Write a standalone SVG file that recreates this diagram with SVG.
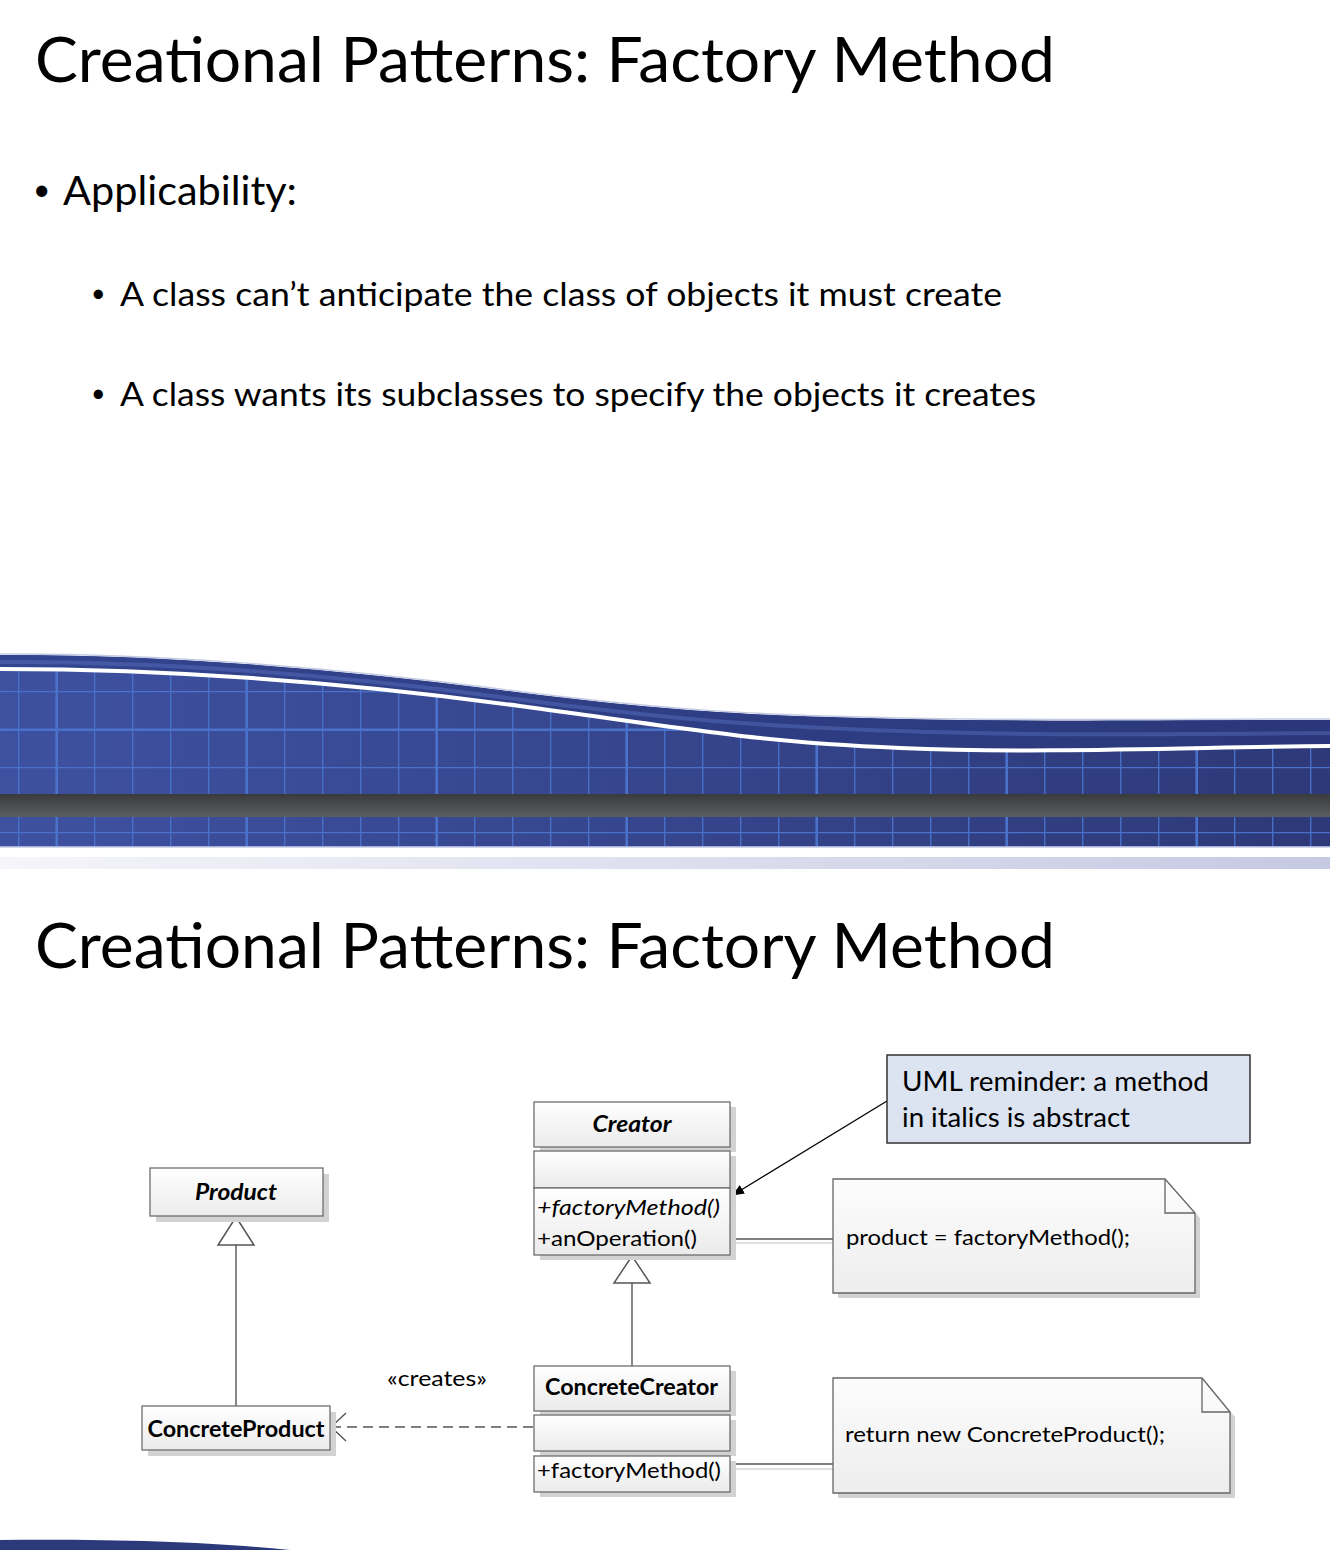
<svg xmlns="http://www.w3.org/2000/svg" width="1330" height="1550" viewBox="0 0 1330 1550">
<defs>
<style>
.t{font-family:Lato,"Open Sans","Liberation Sans",sans-serif;fill:#000}
.title{font-size:62px;font-weight:400}
.b1{font-size:40px}
.b2{font-size:32px}
.d{font-size:22px}
.bd{font-weight:bold}
.it{font-style:italic}
.box{fill:url(#boxGrad);stroke:#6e6e6e;stroke-width:1.3}
.sh{fill:#d2d2d2}
.note{fill:url(#noteGrad);stroke:#666;stroke-width:1.3}
.line{stroke:#555;stroke-width:1.4;fill:none}
.lsh{stroke:#d4d4d4;stroke-width:1.4;fill:none}
.grid{stroke:#4a72cb;fill:none}
</style>
<linearGradient id="boxGrad" x1="0" y1="0" x2="0" y2="1">
<stop offset="0" stop-color="#ffffff"/><stop offset="1" stop-color="#ebebeb"/>
</linearGradient>
<linearGradient id="noteGrad" x1="0" y1="0" x2="0" y2="1">
<stop offset="0" stop-color="#fdfdfd"/><stop offset="1" stop-color="#ededed"/>
</linearGradient>
<linearGradient id="blueGrad" x1="0" y1="0" x2="1" y2="0">
<stop offset="0" stop-color="#3e51a0"/><stop offset="1" stop-color="#2d3978"/>
</linearGradient>
<linearGradient id="ribGrad" x1="0" y1="0" x2="1" y2="0">
<stop offset="0" stop-color="#33458f"/><stop offset="1" stop-color="#2a377a"/>
</linearGradient>
<linearGradient id="barGrad" x1="0" y1="0" x2="0" y2="1">
<stop offset="0" stop-color="#393b3d"/><stop offset="1" stop-color="#5a5e61"/>
</linearGradient>
<linearGradient id="lavGrad" x1="0" y1="0" x2="1" y2="0">
<stop offset="0" stop-color="#f5f5fa"/><stop offset="1" stop-color="#c6c9e3"/>
</linearGradient>
<clipPath id="gridClip">
<path d="M0,669 C150,669 330,680 520,706 C710,732 760,742 900,748 C1040,754 1200,747 1330,746 L1330,847 L0,847 Z"/>
</clipPath>
<marker id="arrFill" markerWidth="12" markerHeight="10" refX="11" refY="5" orient="auto" markerUnits="userSpaceOnUse">
<path d="M0,0 L12,5 L0,10 Z" fill="#000"/>
</marker>
</defs>

<rect x="0" y="0" width="1330" height="1550" fill="#ffffff"/>

<!-- Slide 1 text -->
<text class="t title" x="35" y="82" textLength="1020" lengthAdjust="spacingAndGlyphs">Creational Patterns: Factory Method</text>
<text class="t" font-size="30" x="33" y="200">•</text>
<text class="t b1" x="63" y="205" textLength="234" lengthAdjust="spacingAndGlyphs">Applicability:</text>
<text class="t" font-size="25" x="91" y="302">•</text>
<text class="t b2" x="120" y="306" textLength="882" lengthAdjust="spacingAndGlyphs">A class can’t anticipate the class of objects it must create</text>
<text class="t" font-size="25" x="91" y="402">•</text>
<text class="t b2" x="120" y="406" textLength="916" lengthAdjust="spacingAndGlyphs">A class wants its subclasses to specify the objects it creates</text>

<!-- Wave band -->
<path d="M0,655 C150,654 330,668 500,690 C670,712 760,716 900,719 C1040,722 1200,720 1330,720 L1330,847 L0,847 Z" fill="url(#blueGrad)"/>
<g clip-path="url(#gridClip)">
<g class="grid" stroke-width="1.3">
<path d="M18.7,640V850M94.7,640V850M132.7,640V850M170.7,640V850M208.7,640V850M284.7,640V850M322.7,640V850M360.7,640V850M398.7,640V850M474.7,640V850M512.7,640V850M550.7,640V850M588.7,640V850M664.7,640V850M702.7,640V850M740.7,640V850M778.7,640V850M854.7,640V850M892.7,640V850M930.7,640V850M968.7,640V850M1044.7,640V850M1082.7,640V850M1120.7,640V850M1158.7,640V850M1234.7,640V850M1272.7,640V850M1310.7,640V850"/>
<path d="M0,691.7H1330M0,767.7H1330M0,832.7H1330"/>
</g>
<g class="grid" stroke-width="2.6">
<path d="M56.7,640V850M246.7,640V850M436.7,640V850M626.7,640V850M816.7,640V850M1006.7,640V850M1196.7,640V850"/>
<path d="M0,729.7H1330"/>
</g>
</g>
<path d="M0,655 C150,654 330,668 500,690 C670,712 760,716 900,719 C1040,722 1200,720 1330,720 L1330,746 C1200,747 1040,754 900,748 C760,742 710,732 520,706 C330,680 150,669 0,669 Z" fill="url(#ribGrad)"/>
<path d="M0,662 C150,661 330,674 500,697 C670,720 760,726 900,731 C1040,736 1200,734 1330,733" fill="none" stroke="#5a72c0" stroke-width="4" opacity="0.45"/>
<path d="M0,654 C150,653 330,667 500,689 C670,711 760,715 900,718 C1040,721 1200,719 1330,719" fill="none" stroke="#c4cae4" stroke-width="1.5"/>
<path d="M0,669 C150,669 330,680 520,706 C710,732 760,742 900,748 C1040,754 1200,747 1330,746" fill="none" stroke="#ffffff" stroke-width="4"/>
<rect x="0" y="794" width="1330" height="23" fill="url(#barGrad)"/>
<rect x="0" y="846" width="1330" height="1.5" fill="#a7b0da"/>
<rect x="0" y="857" width="1330" height="12" fill="url(#lavGrad)"/>

<!-- Slide 2 title -->
<text class="t title" x="35" y="968" textLength="1020" lengthAdjust="spacingAndGlyphs">Creational Patterns: Factory Method</text>

<!-- Connectors -->
<g id="connectors">
<line class="line" x1="236" y1="1245" x2="236" y2="1406"/>
<polygon points="236,1217 218,1245 254,1245" fill="#fff" stroke="#555" stroke-width="1.5"/>
<line class="line" x1="632" y1="1283" x2="632" y2="1366"/>
<polygon points="632,1256 614,1283 650,1283" fill="#fff" stroke="#555" stroke-width="1.5"/>
<line class="line" x1="533" y1="1427" x2="333" y2="1427" stroke-dasharray="10,6"/>
<polyline points="346,1413 331,1427 346,1441" fill="none" stroke="#555" stroke-width="1.4"/>
<text class="t d" x="387" y="1386" textLength="100" lengthAdjust="spacingAndGlyphs">«creates»</text>
<line x1="887" y1="1101" x2="733" y2="1195" stroke="#000" stroke-width="1.3" marker-end="url(#arrFill)"/>
<line class="lsh" x1="735" y1="1243" x2="838" y2="1243"/>
<line class="line" x1="730" y1="1239" x2="833" y2="1239"/>
<line class="lsh" x1="735" y1="1469" x2="838" y2="1469"/>
<line class="line" x1="730" y1="1464" x2="833" y2="1464"/>
</g>

<!-- Product -->
<g id="product">
<rect class="sh" x="156" y="1174" width="173" height="48"/>
<rect class="box" x="150" y="1168" width="173" height="48"/>
<text class="t d bd it" x="236" y="1200" text-anchor="middle" textLength="82" lengthAdjust="spacingAndGlyphs">Product</text>
</g>

<!-- ConcreteProduct -->
<g id="concreteProduct">
<rect class="sh" x="148" y="1412" width="188" height="44"/>
<rect class="box" x="142" y="1406" width="188" height="44"/>
<text class="t d bd" x="236" y="1437" text-anchor="middle" textLength="177" lengthAdjust="spacingAndGlyphs">ConcreteProduct</text>
</g>

<!-- Creator -->
<g id="creator">
<rect class="sh" x="540" y="1107" width="196" height="45"/>
<rect class="sh" x="540" y="1156" width="196" height="37"/>
<rect class="sh" x="540" y="1193" width="196" height="67"/>
<rect class="box" x="534" y="1102" width="196" height="45"/>
<rect class="box" x="534" y="1151" width="196" height="37"/>
<rect class="box" x="534" y="1188" width="196" height="67"/>
<text class="t d bd it" x="632" y="1132" text-anchor="middle" textLength="79" lengthAdjust="spacingAndGlyphs">Creator</text>
<text class="t d it" x="537" y="1215" textLength="183" lengthAdjust="spacingAndGlyphs">+factoryMethod()</text>
<text class="t d" x="537" y="1246" textLength="160" lengthAdjust="spacingAndGlyphs">+anOperation()</text>
</g>

<!-- ConcreteCreator -->
<g id="concreteCreator">
<rect class="sh" x="540" y="1371" width="196" height="45"/>
<rect class="sh" x="540" y="1420" width="196" height="36"/>
<rect class="sh" x="540" y="1461" width="196" height="36"/>
<rect class="box" x="534" y="1366" width="196" height="45"/>
<rect class="box" x="534" y="1415" width="196" height="36"/>
<rect class="box" x="534" y="1456" width="196" height="36"/>
<text class="t d bd" x="545" y="1395" textLength="173" lengthAdjust="spacingAndGlyphs">ConcreteCreator</text>
<text class="t d" x="537" y="1478" textLength="184" lengthAdjust="spacingAndGlyphs">+factoryMethod()</text>
</g>

<!-- Reminder -->
<g id="reminder">
<rect x="887" y="1055" width="363" height="88" fill="#dce3f1" stroke="#333" stroke-width="1.5"/>
<text class="t" font-size="27" x="902" y="1091" textLength="307" lengthAdjust="spacingAndGlyphs">UML reminder: a method</text>
<text class="t" font-size="27" x="902" y="1127" textLength="228" lengthAdjust="spacingAndGlyphs">in italics is abstract</text>
</g>

<!-- Note 1 -->
<g id="note1">
<path class="sh" d="M838,1184 H1170 L1200,1218 V1298 H838 Z"/>
<path class="note" d="M833,1179 H1165 L1195,1213 V1293 H833 Z"/>
<path d="M1165,1179 V1213 H1195" fill="none" stroke="#666" stroke-width="1.3"/>
<text class="t d" x="846" y="1245" textLength="284" lengthAdjust="spacingAndGlyphs">product = factoryMethod();</text>
</g>

<!-- Note 2 -->
<g id="note2">
<path class="sh" d="M838,1383 H1207 L1235,1417 V1498 H838 Z"/>
<path class="note" d="M833,1378 H1202 L1230,1412 V1493 H833 Z"/>
<path d="M1202,1378 V1412 H1230" fill="none" stroke="#666" stroke-width="1.3"/>
<text class="t d" x="845" y="1442" textLength="320" lengthAdjust="spacingAndGlyphs">return new ConcreteProduct();</text>
</g>

<!-- bottom wave start -->
<path d="M0,1550 L0,1540 C120,1539 210,1542 290,1550 Z" fill="#2c3a7c"/>
</svg>
